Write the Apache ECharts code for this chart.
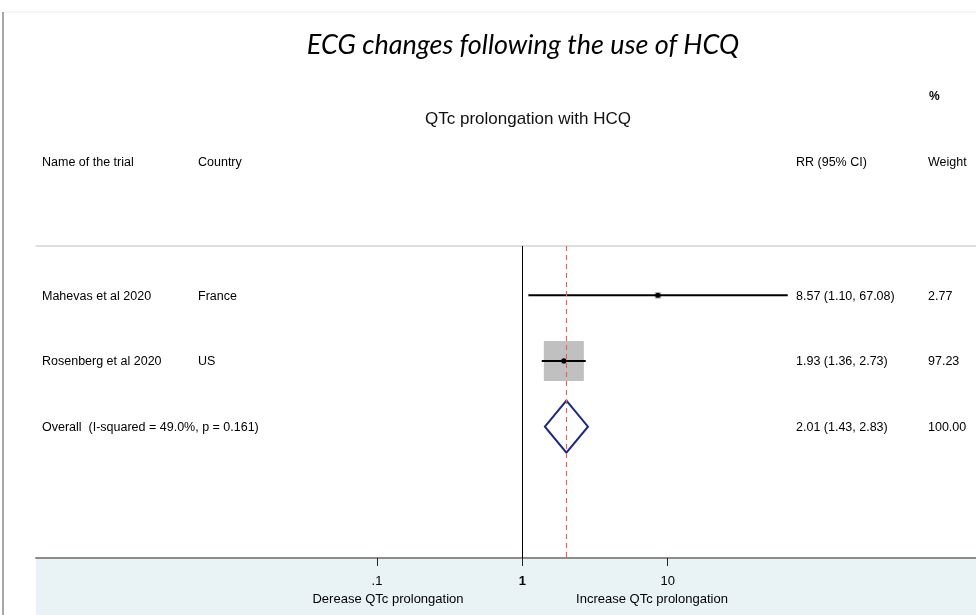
<!DOCTYPE html>
<html>
<head>
<meta charset="utf-8">
<script src="https://cdn.jsdelivr.net/npm/echarts@6/dist/echarts.min.js"></script>
<style>
html, body { margin: 0; padding: 0; background: #fff; }
#main { width: 976px; height: 615px; }
</style>
</head>
<body>
<div id="main"></div>
<script>
// study data (risk ratio, 95% CI, weight %)
var trials = ['Mahevas et al 2020', 'Rosenberg et al 2020'];
var countries = ['France', 'US'];
var rr = [8.57, 1.93];
var ciLow = [1.10, 1.36];
var ciHigh = [67.08, 2.73];
var weights = [2.77, 97.23];

// pooled estimate
var overallLabel = 'Overall  (I-squared = 49.0%, p = 0.161)';
var overall = [2.01, 1.43, 2.83];
var overallWeight = 100.00;

// x axis ticks (log scale)
var tickValues = [0.1, 1, 10];
var tickLabels = ['.1', '1', '10'];

var LOG_MIN = -3.347, LOG_MAX = 3.122;   // visible range of the log axis
var FONT = 'Liberation Sans, Arial, sans-serif';
var NARROW = 'Liberation Sans Narrow, Arial Narrow, Liberation Sans, sans-serif';

function lg(v) { return Math.log10(v); }
function ciText(e, l, h) { return e.toFixed(2) + ' (' + l.toFixed(2) + ', ' + h.toFixed(2) + ')'; }

var studyData = trials.map(function (t, i) {
    return [lg(rr[i]), i + 1, lg(ciLow[i]), lg(ciHigh[i]), weights[i]];
});
var overallRow = trials.length + 1;

var rowTexts = trials.map(function (t, i) {
    return [t, countries[i], ciText(rr[i], ciLow[i], ciHigh[i]), weights[i].toFixed(2)];
});
rowTexts.push([overallLabel, '', ciText(overall[0], overall[1], overall[2]), overallWeight.toFixed(2)]);
var textData = rowTexts.map(function (r, i) { return [0, i + 1]; });

var colX = [42, 198, 796, 928];

function renderStudy(params, api) {
    var y = api.value(1);
    var est = api.coord([api.value(0), y]);
    var lo = api.coord([api.value(2), y]);
    var hi = api.coord([api.value(3), y]);
    var side = 4.06 * Math.sqrt(api.value(4));   // box area ~ weight
    return {
        type: 'group',
        children: [
            { type: 'rect', shape: { x: est[0] - side / 2, y: est[1] - side / 2, width: side, height: side, r: 1 },
              style: { fill: '#c0c0c0' } },
            { type: 'line', shape: { x1: lo[0], y1: lo[1], x2: hi[0], y2: hi[1] },
              style: { stroke: '#000', lineWidth: 2 } },
            { type: 'circle', shape: { cx: est[0], cy: est[1], r: 2.6 }, style: { fill: '#000' } }
        ]
    };
}

function renderDiamond(params, api) {
    var y = api.value(1);
    var est = api.coord([api.value(0), y]);
    var lo = api.coord([api.value(2), y]);
    var hi = api.coord([api.value(3), y]);
    var h = 26;
    return {
        type: 'polygon',
        shape: { points: [[lo[0], est[1]], [est[0], est[1] - h], [hi[0], est[1]], [est[0], est[1] + h]] },
        style: { fill: 'none', stroke: '#1b2a80', lineWidth: 2 }
    };
}

function renderText(params, api) {
    var y = api.coord([0, api.value(1)])[1];
    var r = rowTexts[params.dataIndex];
    return {
        type: 'group',
        children: r.map(function (s, k) {
            return { type: 'text', x: colX[k], y: y + 1,
                style: { text: s, font: '12.5px ' + FONT, fill: '#000', verticalAlign: 'middle' } };
        })
    };
}

var chart = echarts.init(document.getElementById('main'));
var option = {
    animation: false,
    grid: { left: 36, right: 0, top: 246, bottom: 57 },
    xAxis: [
        {
            type: 'value',
            min: LOG_MIN,
            max: LOG_MAX,
            splitLine: { show: false },
            axisLine: { lineStyle: { color: '#8c8c8c', width: 2 } },
            axisTick: { customValues: tickValues.map(lg), length: 8, lineStyle: { color: '#222', width: 1 } },
            axisLabel: {
                customValues: tickValues.map(lg),
                margin: 17,
                fontFamily: NARROW,
                fontSize: 13,
                color: '#000',
                formatter: function (v) {
                    var i = tickValues.map(lg).findIndex(function (t) { return Math.abs(t - v) < 1e-6; });
                    if (i < 0) return '';
                    return tickLabels[i] === '1' ? '{b|1}' : tickLabels[i];
                },
                rich: { b: { fontWeight: 'bold', fontFamily: NARROW, fontSize: 13, color: '#000' } }
            }
        },
        {
            type: 'value',
            position: 'top',
            min: LOG_MIN,
            max: LOG_MAX,
            splitLine: { show: false },
            axisLine: { lineStyle: { color: '#d4d4d4', width: 1.5 } },
            axisTick: { show: false },
            axisLabel: { show: false }
        }
    ],
    yAxis: {
        type: 'value',
        inverse: true,
        min: 0.25,
        max: 5.0,
        show: false
    },
    graphic: [
        { type: 'rect', z: -10, shape: { x: 36, y: 559, width: 940, height: 56 }, style: { fill: '#e9f3f5' } },
        { type: 'line', shape: { x1: 3, y1: 12, x2: 3, y2: 615 }, style: { stroke: '#a8a8a8', lineWidth: 2 } },
        { type: 'line', shape: { x1: 4, y1: 12, x2: 976, y2: 12 }, style: { stroke: '#ececec', lineWidth: 1 } },
        { type: 'text', x: 523, y: 45, style: { text: 'ECG changes following the use of HCQ',
            font: 'italic 27px Lato, "Open Sans", sans-serif', fill: '#000', align: 'center', verticalAlign: 'middle' } },
        { type: 'text', x: 528, y: 119, style: { text: 'QTc prolongation with HCQ',
            font: '17px ' + FONT, fill: '#111', align: 'center', verticalAlign: 'middle' } },
        { type: 'text', x: 42, y: 163, style: { text: 'Name of the trial', font: '12.5px ' + FONT, fill: '#000', verticalAlign: 'middle' } },
        { type: 'text', x: 198, y: 163, style: { text: 'Country', font: '12.5px ' + FONT, fill: '#000', verticalAlign: 'middle' } },
        { type: 'text', x: 796, y: 163, style: { text: 'RR (95% CI)', font: '12.5px ' + FONT, fill: '#000', verticalAlign: 'middle' } },
        { type: 'text', x: 928, y: 163, style: { text: 'Weight', font: '12.5px ' + FONT, fill: '#000', verticalAlign: 'middle' } },
        { type: 'text', x: 929, y: 97, style: { text: '%', font: 'bold 12px ' + FONT, fill: '#000', verticalAlign: 'middle' } },
        { type: 'text', x: 388, y: 599, style: { text: 'Derease QTc prolongation', font: '13px ' + NARROW, fill: '#000', align: 'center', verticalAlign: 'middle' } },
        { type: 'text', x: 652, y: 599, style: { text: 'Increase QTc prolongation', font: '13px ' + NARROW, fill: '#000', align: 'center', verticalAlign: 'middle' } }
    ],
    series: [
        {
            name: 'studies',
            type: 'custom',
            renderItem: renderStudy,
            data: studyData,
            z: 3,
            markLine: {
                silent: true,
                symbol: 'none',
                label: { show: false },
                data: [
                    { xAxis: 0, lineStyle: { color: '#000', width: 1, type: 'solid' } },
                    { xAxis: lg(overall[0]), lineStyle: { color: '#e06666', width: 1.2, type: [5, 4] } }
                ]
            }
        },
        {
            name: 'overall',
            type: 'custom',
            renderItem: renderDiamond,
            data: [[lg(overall[0]), overallRow, lg(overall[1]), lg(overall[2])]],
            z: 4
        },
        {
            name: 'labels',
            type: 'custom',
            renderItem: renderText,
            data: textData,
            clip: false
        }
    ]
};
chart.setOption(option);
</script>
</body>
</html>
